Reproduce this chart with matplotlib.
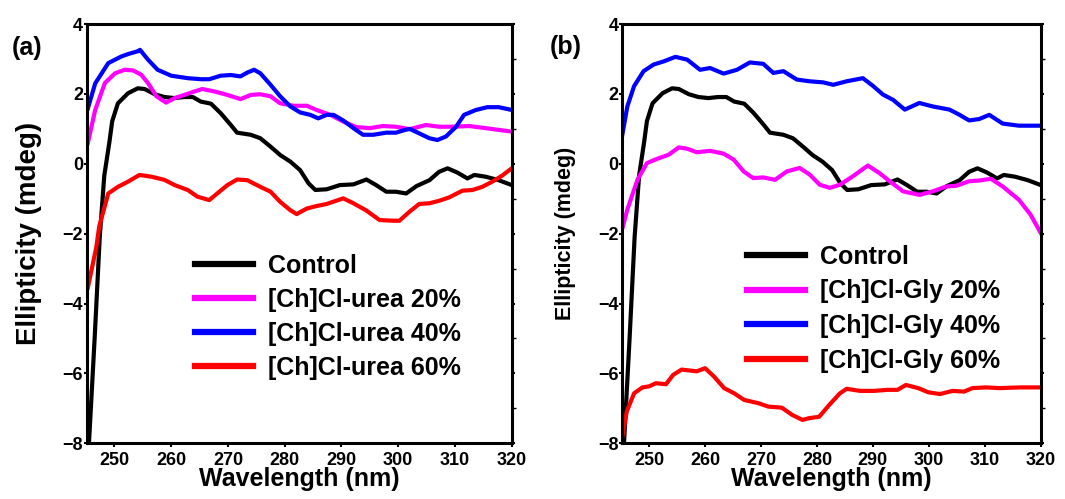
import numpy as np
import matplotlib.pyplot as plt
from matplotlib.ticker import MultipleLocator

plt.rcParams['font.family'] = ['Liberation Sans', 'DejaVu Sans']
plt.rcParams['font.weight'] = 'bold'

# Control (same in both panels)
ctrl_x = [245.3, 246.5, 247.4, 248.2, 249.1, 249.6, 250.6, 252.4, 254.1, 255.3, 257.1, 258.8,
          260.6, 262.3, 263.8, 265.2, 267.0, 268.7, 270.5, 271.6, 274.0, 275.7, 277.5, 279.2,
          281.0, 282.7, 284.2, 285.4, 287.4, 289.7, 292.1, 294.4, 296.1, 297.9, 299.6, 301.4,
          303.2, 305.5, 307.2, 308.7, 310.4, 312.2, 313.4, 315.4, 317.7, 320.0]
ctrl_y = [-8.6, -5.0, -2.1, -0.34, 0.62, 1.22, 1.73, 2.02, 2.16, 2.14, 1.99, 1.91,
          1.88, 1.91, 1.91, 1.78, 1.72, 1.45, 1.11, 0.89, 0.83, 0.73, 0.49, 0.25,
          0.06, -0.18, -0.56, -0.75, -0.73, -0.61, -0.59, -0.45, -0.61, -0.80, -0.80, -0.85,
          -0.64, -0.47, -0.23, -0.13, -0.25, -0.42, -0.32, -0.37, -0.47, -0.61]

# (a) [Ch]Cl-urea
urea20_x = [245.3, 246.6, 248.3, 250.1, 251.8, 253.3, 254.7, 255.9, 257.4, 259.1, 260.6, 262.3,
            264.1, 265.5, 267.6, 269.9, 272.2, 274.0, 275.7, 277.5, 279.2, 281.6, 283.9, 285.6,
            288.0, 290.3, 292.6, 295.0, 297.3, 299.6, 302.0, 304.9, 307.2, 309.5, 312.5, 315.4, 320.0]
urea20_y = [0.59, 1.54, 2.31, 2.59, 2.69, 2.67, 2.55, 2.31, 1.93, 1.75, 1.88, 1.97,
            2.07, 2.14, 2.07, 1.97, 1.85, 1.97, 1.99, 1.93, 1.73, 1.66, 1.66, 1.54,
            1.40, 1.21, 1.05, 1.02, 1.08, 1.06, 0.99, 1.11, 1.06, 1.06, 1.08, 1.02, 0.92]

urea40_x = [245.3, 246.6, 248.9, 251.2, 252.4, 254.1, 254.5, 255.9, 257.6, 260.0, 262.9, 265.2,
            266.7, 268.7, 270.5, 272.2, 273.4, 274.6, 275.7, 277.5, 279.2, 281.0, 282.7, 284.5,
            285.9, 287.4, 288.6, 290.3, 292.1, 293.8, 295.6, 297.9, 299.6, 300.8, 302.0, 303.7,
            305.5, 306.9, 308.4, 310.2, 311.6, 313.7, 315.7, 317.7, 320.0]
urea40_y = [1.58, 2.30, 2.88, 3.07, 3.14, 3.22, 3.26, 2.98, 2.69, 2.52, 2.45, 2.42,
            2.42, 2.52, 2.54, 2.50, 2.61, 2.69, 2.59, 2.26, 1.93, 1.64, 1.47, 1.40,
            1.30, 1.40, 1.40, 1.24, 1.02, 0.83, 0.83, 0.89, 0.89, 0.95, 1.00, 0.87,
            0.73, 0.68, 0.78, 1.06, 1.40, 1.54, 1.62, 1.62, 1.54]

urea60_x = [245.3, 246.8, 247.3, 248.9, 250.6, 252.4, 254.4, 256.5, 258.8, 260.6, 262.9, 264.6,
            266.7, 268.1, 269.9, 271.6, 273.4, 275.7, 277.5, 279.2, 281.0, 282.1, 283.9, 285.6,
            287.4, 290.3, 292.1, 294.4, 296.7, 299.1, 300.2, 302.0, 303.7, 305.5, 307.2, 309.0,
            311.3, 313.1, 314.8, 316.6, 318.3, 320.0]
urea60_y = [-3.55, -2.38, -1.80, -0.85, -0.66, -0.51, -0.32, -0.37, -0.46, -0.61, -0.75, -0.94,
            -1.04, -0.85, -0.61, -0.45, -0.47, -0.66, -0.80, -1.09, -1.33, -1.44, -1.28, -1.21,
            -1.15, -0.99, -1.13, -1.34, -1.61, -1.63, -1.63, -1.37, -1.15, -1.13, -1.06, -0.96,
            -0.77, -0.75, -0.66, -0.51, -0.34, -0.13]

# (b) [Ch]Cl-Gly
gly20_x = [245.0, 246.1, 247.9, 249.6, 251.4, 253.5, 255.3, 256.8, 258.5, 260.9, 263.3, 265.1,
           266.9, 268.6, 270.4, 272.5, 274.6, 276.9, 278.7, 280.5, 282.3, 284.1, 286.4, 289.1,
           291.2, 293.0, 295.4, 298.3, 300.7, 303.1, 304.9, 307.2, 309.0, 311.1, 313.2, 316.1,
           318.2, 320.0]
gly20_y = [-1.98, -1.31, -0.46, 0.02, 0.14, 0.26, 0.47, 0.43, 0.33, 0.37, 0.29, 0.12,
           -0.22, -0.41, -0.39, -0.46, -0.22, -0.12, -0.31, -0.60, -0.69, -0.60, -0.36, -0.05,
           -0.27, -0.50, -0.79, -0.89, -0.79, -0.65, -0.63, -0.50, -0.48, -0.43, -0.65, -1.03,
           -1.46, -1.98]

gly40_x = [245.0, 246.1, 247.3, 249.0, 250.8, 252.6, 254.7, 256.8, 259.1, 260.9, 263.3, 265.7,
           268.0, 270.4, 272.2, 274.0, 276.4, 278.7, 281.1, 282.9, 285.3, 288.2, 290.0, 291.8,
           293.6, 295.7, 298.3, 300.7, 303.7, 305.5, 307.2, 309.0, 310.8, 313.2, 316.1, 320.0]
gly40_y = [0.65, 1.64, 2.22, 2.65, 2.84, 2.93, 3.06, 2.98, 2.69, 2.74, 2.58, 2.69,
           2.90, 2.86, 2.60, 2.65, 2.41, 2.36, 2.33, 2.26, 2.36, 2.45, 2.23, 1.98,
           1.83, 1.55, 1.74, 1.64, 1.55, 1.40, 1.24, 1.28, 1.40, 1.15, 1.09, 1.09]

gly60_x = [245.0, 246.0, 247.3, 248.8, 250.0, 251.2, 253.0, 254.3, 255.8, 258.5, 260.0, 261.6,
           263.4, 265.2, 267.0, 269.5, 271.3, 273.7, 275.6, 277.4, 278.6, 280.4, 282.2, 284.1,
           285.3, 287.7, 290.2, 292.6, 294.4, 295.9, 298.1, 299.9, 302.0, 304.2, 306.3, 307.8,
           310.2, 312.7, 316.3, 320.0]
gly60_y = [-8.0, -7.09, -6.57, -6.40, -6.37, -6.28, -6.31, -6.04, -5.89, -5.94, -5.85, -6.09,
           -6.42, -6.57, -6.76, -6.85, -6.95, -6.98, -7.19, -7.33, -7.28, -7.24, -6.90, -6.57,
           -6.44, -6.50, -6.50, -6.47, -6.47, -6.33, -6.42, -6.54, -6.59, -6.50, -6.52, -6.42,
           -6.40, -6.42, -6.40, -6.40]

x_ticks = [250, 260, 270, 280, 290, 300, 310, 320]
y_ticks = [-8, -6, -4, -2, 0, 2, 4]

panels = [
    dict(tag='(a)', ylab_size=20, ylab_pad=15, series=[
        (ctrl_x, ctrl_y, 'black', 'Control'),
        (urea20_x, urea20_y, '#ff00ff', '[Ch]Cl-urea 20%'),
        (urea40_x, urea40_y, '#0000ff', '[Ch]Cl-urea 40%'),
        (urea60_x, urea60_y, '#ff0000', '[Ch]Cl-urea 60%')],
        legend_at=(0.255, 0.452), lspace=0.4),
    dict(tag='(b)', ylab_size=15.5, ylab_pad=16, series=[
        (ctrl_x, ctrl_y, 'black', 'Control'),
        (gly20_x, gly20_y, '#ff00ff', '[Ch]Cl-Gly 20%'),
        (gly40_x, gly40_y, '#0000ff', '[Ch]Cl-Gly 40%'),
        (gly60_x, gly60_y, '#ff0000', '[Ch]Cl-Gly 60%')],
        legend_at=(0.30, 0.474), lspace=0.43),
]

fig = plt.figure(figsize=(10.65, 4.99), dpi=100)
axes = [fig.add_axes([0.0814, 0.1116, 0.3991, 0.8403]),
        fig.add_axes([0.5838, 0.1116, 0.3934, 0.8403])]
tag_pos = [(0.011, 0.89), (0.516, 0.892)]

for ax, p, tp in zip(axes, panels, tag_pos):
    for x, y, c, lab in p['series']:
        ax.plot(x, y, color=c, lw=3, label=lab, solid_joinstyle='round')
    ax.set_xlim(245.1, 320)
    ax.set_ylim(-8, 4)
    ax.set_xticks(x_ticks)
    ax.set_yticks(y_ticks)
    ax.yaxis.set_minor_locator(MultipleLocator(1))
    ax.tick_params(axis='x', length=3, width=1.5, pad=3, labelsize=13)
    ax.tick_params(axis='y', which='major', length=2, width=1.5, pad=0.5, labelsize=13,
                   right=True)
    ax.tick_params(axis='y', which='minor', left=False, right=True, length=3, width=1)
    for s in ax.spines.values():
        s.set_linewidth(2.2)
    ax.set_xlabel('Wavelength (nm)', fontsize=18, fontweight='bold', labelpad=-1)
    ax.set_ylabel('Ellipticity (mdeg)', fontsize=p['ylab_size'], fontweight='bold',
                  labelpad=p['ylab_pad'])
    leg = ax.legend(loc='upper left', bbox_to_anchor=p['legend_at'], frameon=False,
                    fontsize=18, handlelength=2.3, handletextpad=0.6,
                    labelspacing=p['lspace'], borderpad=0, borderaxespad=0)
    for h in leg.get_lines():
        h.set_linewidth(4.5)
    fig.text(tp[0], tp[1], p['tag'], fontsize=18, fontweight='bold')

fig.savefig('out.png', dpi=100)
